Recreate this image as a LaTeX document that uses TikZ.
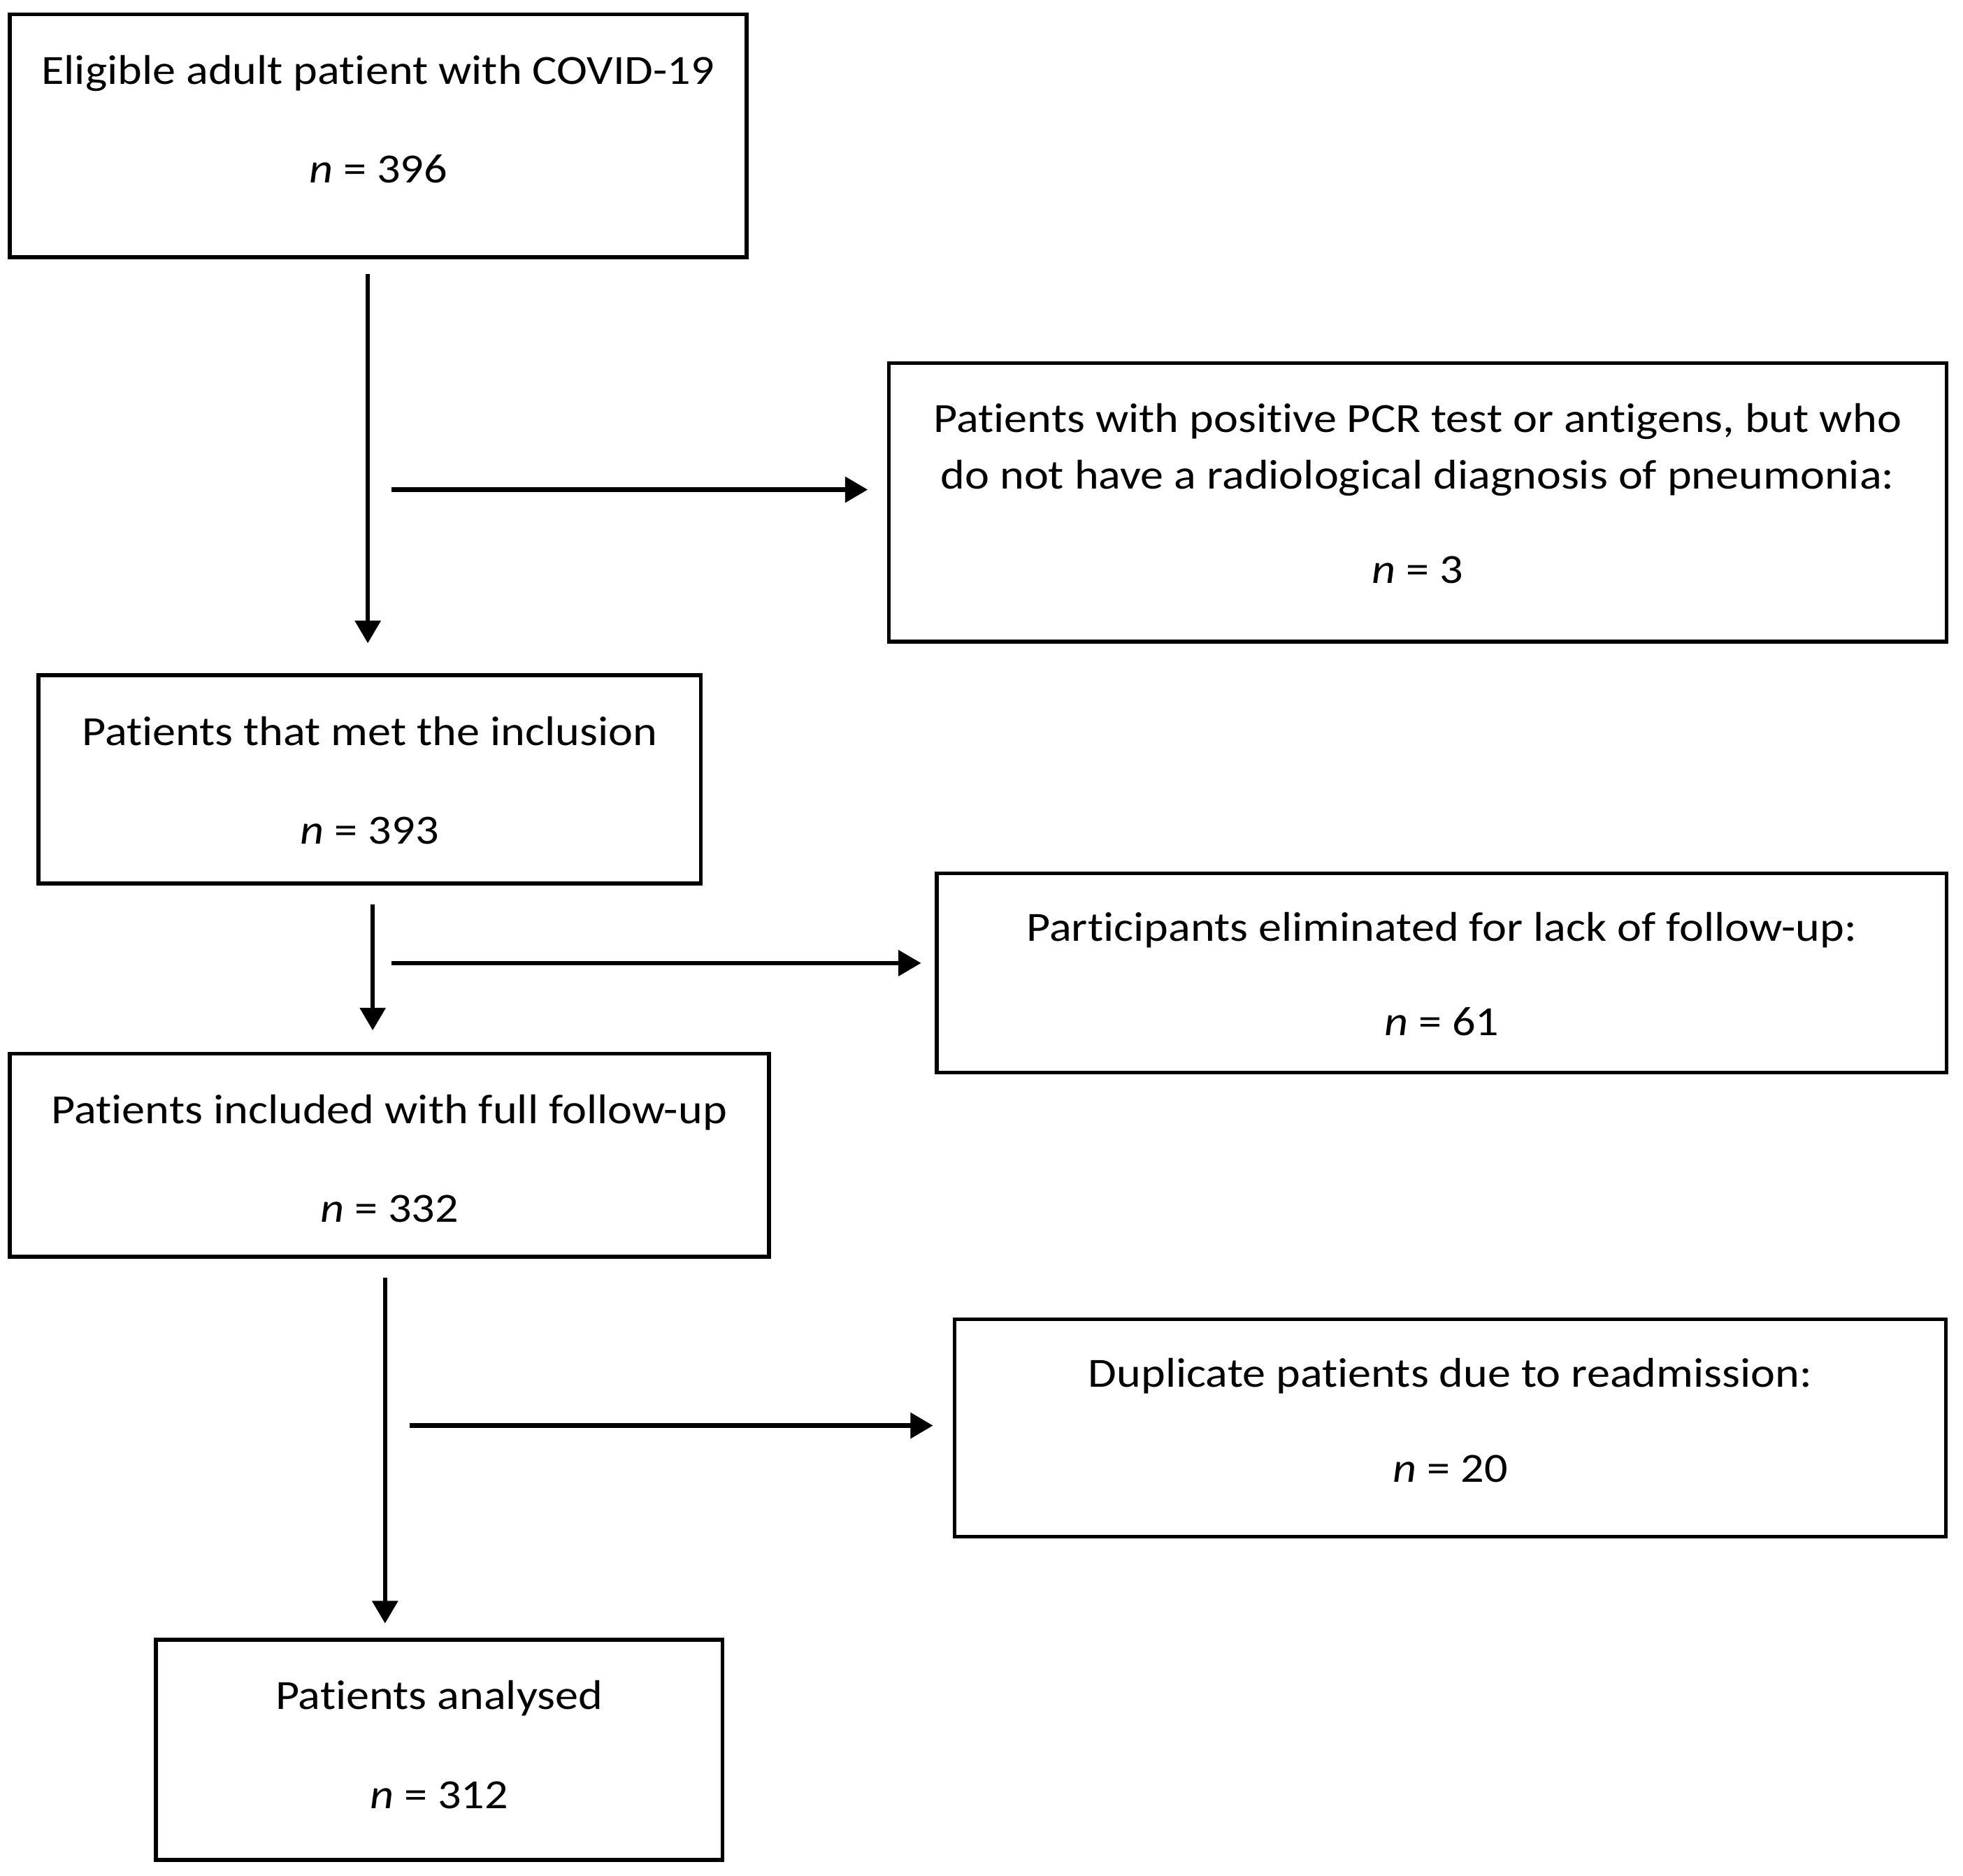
\documentclass[tikz,border=0pt]{standalone}
\usepackage{fontspec}
\setmainfont{Carlito}[FakeStretch=1.115, Ligatures=NoCommon]
\usetikzlibrary{arrows.meta,calc}
\begin{document}
\begin{tikzpicture}[x=0.5pt,y=-0.5pt,
  box/.style={draw, line width=1.5pt, inner sep=0pt},
  txt/.style={anchor=base, inner sep=0pt, yshift=-1.5pt, font=\fontsize{16.5}{20}\selectfont},
  flow/.style={line width=1.8pt, -{Triangle[length=9pt,width=10pt]}}]
\useasboundingbox (0,0) rectangle (1560,1491);
\fill[white] (0,0) rectangle (1560,1491);
% boxes
\node[box, minimum width=292.75pt, minimum height=96.55pt] (b1) at (300.5,107.9) {};
\node[box, minimum width=420.3pt, minimum height=110.75pt] (b2) at (1126.6,399.25) {};
\node[box, minimum width=263.25pt, minimum height=82.85pt] (b3) at (293.75,619.45) {};
\node[box, minimum width=401.2pt, minimum height=79.15pt] (b4) at (1145.7,773.45) {};
\node[box, minimum width=301.6pt, minimum height=80.75pt] (b5) at (309.4,918.15) {};
\node[box, minimum width=394pt, minimum height=86.4pt] (b6) at (1152.5,1135) {};
\node[box, minimum width=225.05pt, minimum height=87.45pt] (b7) at (348.95,1390.85) {};
% texts
\node[txt] (t1a) at ($(b1.north)+(0,54.3)$) {Eligible adult patient with COVID-19};
\node[txt] (t1b) at ($(b1.north)+(0,132.2)$) {\textit{n} = 396};
\node[txt] (t2a) at ($(b2.north)+(0,53.5)$) {Patients with positive PCR test or antigens, but who};
\node[txt] (t2b) at ($(b2.north)+(0,98.8)$) {do not have a radiological diagnosis of pneumonia:};
\node[txt] (t2c) at ($(b2.north)+(0,173.8)$) {\textit{n} = 3};
\node[txt] (t3a) at ($(b3.north)+(0,54.4)$) {Patients that met the inclusion};
\node[txt] (t3b) at ($(b3.north)+(0,132.7)$) {\textit{n} = 393};
\node[txt] (t4a) at ($(b4.north)+(0,52.3)$) {Participants eliminated for lack of follow-up:};
\node[txt] (t4b) at ($(b4.north)+(0,127.3)$) {\textit{n} = 61};
\node[txt] (t5a) at ($(b5.north)+(0,54.1)$) {Patients included with full follow-up};
\node[txt] (t5b) at ($(b5.north)+(0,132.6)$) {\textit{n} = 332};
\node[txt] (t6a) at ($(b6.north)+(0,52.4)$) {Duplicate patients due to readmission:};
\node[txt] (t6b) at ($(b6.north)+(0,128)$) {\textit{n} = 20};
\node[txt] (t7a) at ($(b7.north)+(0,53.6)$) {Patients analysed};
\node[txt] (t7b) at ($(b7.north)+(0,132.4)$) {\textit{n} = 312};
% connector end points
\coordinate (v1s) at (292.3,217.9);  \coordinate (v1e) at (292.3,511.3);
\coordinate (v2s) at (296.2,719);    \coordinate (v2e) at (296.2,819);
\coordinate (v3s) at (306,1015.5);   \coordinate (v3e) at (306,1290.4);
\coordinate (h1s) at (311,389.2);    \coordinate (h1e) at (689.6,389.2);
\coordinate (h2s) at (311,765.5);    \coordinate (h2e) at (732,765.5);
\coordinate (h3s) at (325.8,1133.1); \coordinate (h3e) at (741.5,1133.1);
% connectors
\draw[flow] (v1s) -- (v1e);
\draw[flow] (v2s) -- (v2e);
\draw[flow] (v3s) -- (v3e);
\draw[flow] (h1s) -- (h1e);
\draw[flow] (h2s) -- (h2e);
\draw[flow] (h3s) -- (h3e);
\end{tikzpicture}
\end{document}
